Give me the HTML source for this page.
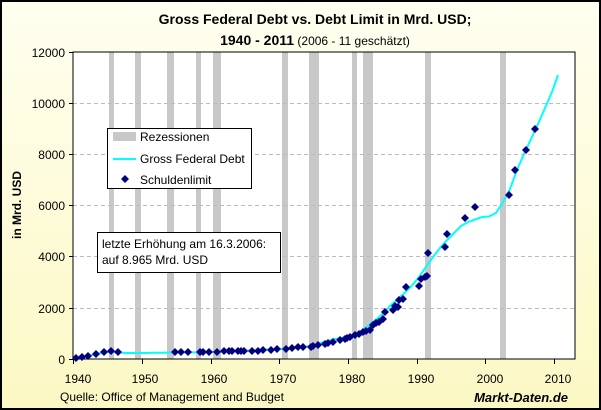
<!DOCTYPE html>
<html><head><meta charset="utf-8"><style>
html,body{margin:0;padding:0;width:601px;height:410px;overflow:hidden}
svg{display:block}
text{font-family:"Liberation Sans",Arial,sans-serif}
</style></head><body>
<svg width="601" height="410" viewBox="0 0 601 410" xmlns="http://www.w3.org/2000/svg">
<defs>
<linearGradient id="bg" x1="0" y1="0" x2="0" y2="1"><stop offset="0" stop-color="#fffff0"/><stop offset="1" stop-color="#fcf8c4"/></linearGradient>
<symbol id="d" viewBox="-4 -4 8 8" overflow="visible"><path d="M0,-4 L4,0 L0,4 L-4,0Z" fill="#000080"/></symbol>
</defs>
<rect x="1" y="1" width="599" height="408" fill="url(#bg)" stroke="#000" stroke-width="2"/>
<text x="315" y="24" text-anchor="middle" font-size="14" font-weight="bold">Gross Federal Debt vs. Debt Limit in Mrd. USD;</text>
<text x="315" y="45" text-anchor="middle" font-size="14"><tspan font-weight="bold">1940 - 2011</tspan><tspan font-size="12"> (2006 - 11 geschätzt)</tspan></text>
<text transform="translate(21,205) rotate(-90)" text-anchor="middle" font-size="12" font-weight="bold">in Mrd. USD</text>
<rect x="73" y="52" width="502" height="307" fill="#fff"/>
<g fill="#c8c8c8">
<rect x="109" y="52" width="5" height="307"/><rect x="135" y="52" width="6" height="307"/><rect x="167" y="52" width="7" height="307"/><rect x="196" y="52" width="5" height="307"/><rect x="213" y="52" width="8" height="307"/><rect x="282" y="52" width="6" height="307"/><rect x="309" y="52" width="10" height="307"/><rect x="352" y="52" width="5" height="307"/><rect x="363" y="52" width="10" height="307"/><rect x="425" y="52" width="6" height="307"/><rect x="500" y="52" width="6" height="307"/>
</g>
<g stroke="#bbb" stroke-dasharray="4,3" stroke-width="1">
<line x1="73" y1="103.5" x2="575" y2="103.5"/><line x1="73" y1="154.5" x2="575" y2="154.5"/><line x1="73" y1="205.5" x2="575" y2="205.5"/><line x1="73" y1="256.5" x2="575" y2="256.5"/><line x1="73" y1="308.5" x2="575" y2="308.5"/>
</g>
<rect x="73" y="52" width="502" height="307" fill="none" stroke="#000" stroke-width="1"/>
<g stroke="#000"><line x1="69" y1="52.5" x2="73" y2="52.5"/><line x1="69" y1="103.5" x2="73" y2="103.5"/><line x1="69" y1="154.5" x2="73" y2="154.5"/><line x1="69" y1="205.5" x2="73" y2="205.5"/><line x1="69" y1="256.5" x2="73" y2="256.5"/><line x1="69" y1="308.5" x2="73" y2="308.5"/><line x1="69" y1="359.5" x2="73" y2="359.5"/>
<line x1="73.5" y1="359" x2="73.5" y2="364"/><line x1="142.5" y1="359" x2="142.5" y2="364"/><line x1="211.5" y1="359" x2="211.5" y2="364"/><line x1="279.5" y1="359" x2="279.5" y2="364"/><line x1="348.5" y1="359" x2="348.5" y2="364"/><line x1="417.5" y1="359" x2="417.5" y2="364"/><line x1="485.5" y1="359" x2="485.5" y2="364"/><line x1="554.5" y1="359" x2="554.5" y2="364"/></g>
<g font-size="12" text-anchor="end"><text x="65" y="57">12000</text><text x="65" y="108">10000</text><text x="65" y="159">8000</text><text x="65" y="210">6000</text><text x="65" y="261">4000</text><text x="65" y="313">2000</text><text x="65" y="364">0</text></g>
<g font-size="12" text-anchor="middle"><text x="78" y="383">1940</text><text x="145" y="383">1950</text><text x="214" y="383">1960</text><text x="283" y="383">1970</text><text x="352" y="383">1980</text><text x="421" y="383">1990</text><text x="490" y="383">2000</text><text x="558" y="383">2010</text></g>
<text x="60" y="401" font-size="12">Quelle: Office of Management and Budget</text>
<text x="568" y="402" text-anchor="end" font-size="13" font-weight="bold" font-style="italic">Markt-Daten.de</text>
<polyline fill="none" stroke="#00ffff" stroke-width="2" points="76,357.5 83,357 90,355.5 97,354 104,352.5 111,352 118,352.3 125,353 132,353 139,353 146,353 153,352.8 160,352.8 167,352.6 174,352.4 181,352.4 188,352.4 195,352.4 202,352.3 209,352 216,351.8 223,351.5 230,351.3 237,351 244,350.8 251,350.6 258,350.3 265,349.5 272,349.6 279,349.2 286,348.5 293,347.8 300,347 307,346.5 314,345 321,342.8 328,341 335,339 342,337.8 349,335.7 356,333.5 363,330 370,324 377,319 384,312.5 391,305 398,299 405,292.5 412,285.5 419,277 426,267 433,257 440,248 447,240 454,233 461,226 468,222 475,219.5 482,217 489,216.5 496,213 503,202 510,189 517,170 524,154 531,139 538,124 545,108 552,92 558,75"/>
<g>
<use href="#d" x="72" y="354" width="8" height="8"/><use href="#d" x="78" y="353" width="8" height="8"/><use href="#d" x="84" y="352" width="8" height="8"/><use href="#d" x="92" y="350" width="8" height="8"/><use href="#d" x="100" y="348" width="8" height="8"/><use href="#d" x="107" y="347" width="8" height="8"/><use href="#d" x="114" y="348" width="8" height="8"/>
<use href="#d" x="171" y="348" width="8" height="8"/><use href="#d" x="177" y="348" width="8" height="8"/><use href="#d" x="184" y="348" width="8" height="8"/><use href="#d" x="196" y="348" width="8" height="8"/><use href="#d" x="199" y="348" width="8" height="8"/><use href="#d" x="205" y="348" width="8" height="8"/><use href="#d" x="213" y="348" width="8" height="8"/><use href="#d" x="220" y="347" width="8" height="8"/><use href="#d" x="225" y="347" width="8" height="8"/><use href="#d" x="228" y="347" width="8" height="8"/><use href="#d" x="234" y="347" width="8" height="8"/><use href="#d" x="237" y="347" width="8" height="8"/><use href="#d" x="240" y="347" width="8" height="8"/><use href="#d" x="248" y="347" width="8" height="8"/><use href="#d" x="254" y="347" width="8" height="8"/><use href="#d" x="259" y="346" width="8" height="8"/><use href="#d" x="267" y="346" width="8" height="8"/><use href="#d" x="273" y="345" width="8" height="8"/><use href="#d" x="282" y="345" width="8" height="8"/><use href="#d" x="288" y="344" width="8" height="8"/><use href="#d" x="294" y="343" width="8" height="8"/><use href="#d" x="299" y="343" width="8" height="8"/><use href="#d" x="307" y="343" width="8" height="8"/><use href="#d" x="309" y="342" width="8" height="8"/><use href="#d" x="314" y="341" width="8" height="8"/><use href="#d" x="321" y="340" width="8" height="8"/><use href="#d" x="324" y="339" width="8" height="8"/><use href="#d" x="329" y="338" width="8" height="8"/><use href="#d" x="336" y="336" width="8" height="8"/><use href="#d" x="341" y="335" width="8" height="8"/><use href="#d" x="343" y="334" width="8" height="8"/><use href="#d" x="346" y="333" width="8" height="8"/><use href="#d" x="351" y="331" width="8" height="8"/><use href="#d" x="355" y="330" width="8" height="8"/><use href="#d" x="359" y="328" width="8" height="8"/><use href="#d" x="362" y="327" width="8" height="8"/><use href="#d" x="366" y="326" width="8" height="8"/><use href="#d" x="369" y="321" width="8" height="8"/><use href="#d" x="372" y="319" width="8" height="8"/><use href="#d" x="375" y="318" width="8" height="8"/><use href="#d" x="379" y="315" width="8" height="8"/><use href="#d" x="381" y="308" width="8" height="8"/><use href="#d" x="389" y="306" width="8" height="8"/><use href="#d" x="391" y="302" width="8" height="8"/><use href="#d" x="394" y="303" width="8" height="8"/><use href="#d" x="395" y="296" width="8" height="8"/><use href="#d" x="399" y="295" width="8" height="8"/><use href="#d" x="402" y="283" width="8" height="8"/><use href="#d" x="415" y="282" width="8" height="8"/><use href="#d" x="417" y="275" width="8" height="8"/><use href="#d" x="421" y="273" width="8" height="8"/><use href="#d" x="423" y="272" width="8" height="8"/><use href="#d" x="424" y="249" width="8" height="8"/><use href="#d" x="441" y="243" width="8" height="8"/><use href="#d" x="443" y="230" width="8" height="8"/><use href="#d" x="461" y="214" width="8" height="8"/><use href="#d" x="471" y="203" width="8" height="8"/><use href="#d" x="505" y="191" width="8" height="8"/><use href="#d" x="511" y="166" width="8" height="8"/><use href="#d" x="522" y="146" width="8" height="8"/><use href="#d" x="531" y="125" width="8" height="8"/>
</g>
<rect x="107.5" y="128.5" width="144" height="60" fill="#fff" stroke="#000"/>
<rect x="113" y="132" width="23" height="9" fill="#c8c8c8"/>
<line x1="113" y1="159" x2="136" y2="159" stroke="#00ffff" stroke-width="2"/>
<use href="#d" x="121" y="175" width="8" height="8"/>
<g font-size="12"><text x="140" y="141">Rezessionen</text><text x="140" y="163">Gross Federal Debt</text><text x="140" y="184">Schuldenlimit</text></g>
<rect x="97.5" y="232.5" width="183" height="40" fill="#fff" stroke="#000"/>
<g font-size="12"><text x="102" y="248">letzte Erhöhung am 16.3.2006:</text><text x="102" y="264">auf 8.965 Mrd. USD</text></g>
</svg>
</body></html>
